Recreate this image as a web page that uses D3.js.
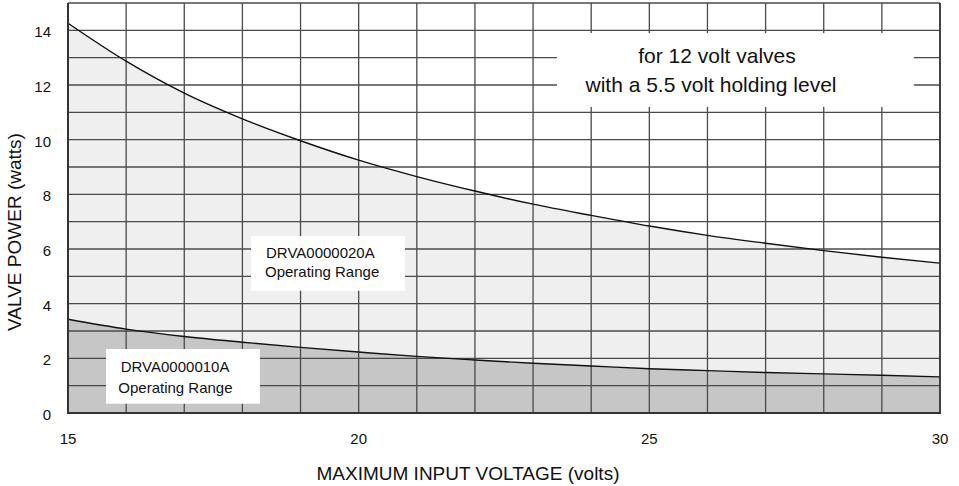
<!DOCTYPE html>
<html><head><meta charset="utf-8">
<script src="https://cdn.jsdelivr.net/npm/d3@7"></script>
<style>
body{margin:0;background:#fff}
svg{display:block}
text{font-family:"Liberation Sans",Arial,Helvetica,sans-serif;fill:#111}
</style>
</head><body>
<svg id="chart" width="959" height="486"></svg>
<script>
// ---- data ----
const voltages = [15,16,17,18,19,20,21,22,23,24,25,26,27,28,29,30];
const power20A = [14.26,12.87,11.70,10.76,9.96,9.25,8.65,8.12,7.64,7.23,6.84,6.50,6.21,5.94,5.70,5.48];
const power10A = [3.43,3.07,2.80,2.59,2.40,2.23,2.07,1.94,1.82,1.72,1.62,1.55,1.48,1.43,1.38,1.32];
const xTickValues = [15,20,25,30];
const yTickValues = [0,2,4,6,8,10,12,14];
const xTitle = "MAXIMUM INPUT VOLTAGE (volts)";
const yTitle = "VALVE POWER (watts)";
const noteLines = ["for 12 volt valves","with a 5.5 volt holding level"];
const label20A = ["DRVA0000020A","Operating Range"];
const label10A = ["DRVA0000010A","Operating Range"];

// ---- drawing ----
const svg = d3.select("#chart");
const x = d3.scaleLinear().domain([15,30]).range([68,940]);
const y = d3.scaleLinear().domain([0,15]).range([413,3]);

const pts20 = voltages.map((v,i)=>({v, p:power20A[i]}));
const pts10 = voltages.map((v,i)=>({v, p:power10A[i]}));
const curve = d3.curveMonotoneX;

const area = d3.area().x(d=>x(d.v)).y0(y(0)).y1(d=>y(d.p)).curve(curve);
const line = d3.line().x(d=>x(d.v)).y(d=>y(d.p)).curve(curve);

svg.append("path").datum(pts20).attr("d",area).attr("fill","#efefef");
svg.append("path").datum(pts10).attr("d",area).attr("fill","#c6c6c6");

// grid
const g = svg.append("g").attr("stroke","#4a4a4a").attr("stroke-width",1.3);
g.selectAll("line.v").data(d3.range(15,31)).join("line")
  .attr("x1",d=>x(d)).attr("x2",d=>x(d)).attr("y1",y(15)).attr("y2",y(0));
g.selectAll("line.h").data(d3.range(0,16)).join("line")
  .attr("y1",d=>y(d)).attr("y2",d=>y(d)).attr("x1",x(15)).attr("x2",x(30));

// curves
svg.append("path").datum(pts20).attr("d",line).attr("fill","none").attr("stroke","#111").attr("stroke-width",1.4);
svg.append("path").datum(pts10).attr("d",line).attr("fill","none").attr("stroke","#111").attr("stroke-width",1.4);

// frame
svg.append("line").attr("x1",x(15)).attr("x2",x(15)).attr("y1",y(15)).attr("y2",y(0)+1).attr("stroke","#333").attr("stroke-width",2);
svg.append("line").attr("x1",x(15)-1).attr("x2",x(30)+1).attr("y1",y(0)).attr("y2",y(0)).attr("stroke","#333").attr("stroke-width",2);
svg.append("line").attr("x1",x(30)).attr("x2",x(30)).attr("y1",y(15)).attr("y2",y(0)).attr("stroke","#333").attr("stroke-width",1.6);

// note box (top right)
function box(v0,v1,p0,p1){
  svg.append("rect").attr("x",x(v0)).attr("y",y(p1))
    .attr("width",x(v1)-x(v0)).attr("height",y(p0)-y(p1)).attr("fill","#fff");
}
box(23.41,29.55,11.2,13.9);
svg.append("text").attr("x",717).attr("y",62.7).attr("text-anchor","middle").attr("font-size",21).text(noteLines[0]);
svg.append("text").attr("x",711).attr("y",91.7).attr("text-anchor","middle").attr("font-size",21).text(noteLines[1]);

// operating range labels
box(18.148,20.797,4.474,6.476);
svg.append("text").attr("x",x(18.148)+15).attr("y",y(6.476)+22.3).attr("font-size",15).text(label20A[0]);
svg.append("text").attr("x",x(18.148)+14).attr("y",y(6.476)+40.7).attr("font-size",15).text(label20A[1]);

box(15.654,18.303,0.34,2.341);
svg.append("text").attr("x",x(15.654)+14.7).attr("y",y(2.341)+23.3).attr("font-size",15).text(label10A[0]);
svg.append("text").attr("x",x(15.654)+12.3).attr("y",y(2.341)+43.5).attr("font-size",15).text(label10A[1]);

// tick labels
svg.selectAll("text.yt").data(yTickValues).join("text").attr("class","yt")
  .attr("x",51).attr("y",d=>y(d)+7).attr("text-anchor","end").attr("font-size",15).text(d=>d);
svg.selectAll("text.xt").data(xTickValues).join("text").attr("class","xt")
  .attr("x",d=>x(d)).attr("y",444).attr("text-anchor","middle").attr("font-size",15).text(d=>d);

// titles
svg.append("text").attr("x",468).attr("y",480).attr("text-anchor","middle").attr("font-size",19).text(xTitle);
svg.append("text").attr("transform","translate(21,232) rotate(-90)").attr("text-anchor","middle").attr("font-size",19).text(yTitle);
</script>
</body></html>
